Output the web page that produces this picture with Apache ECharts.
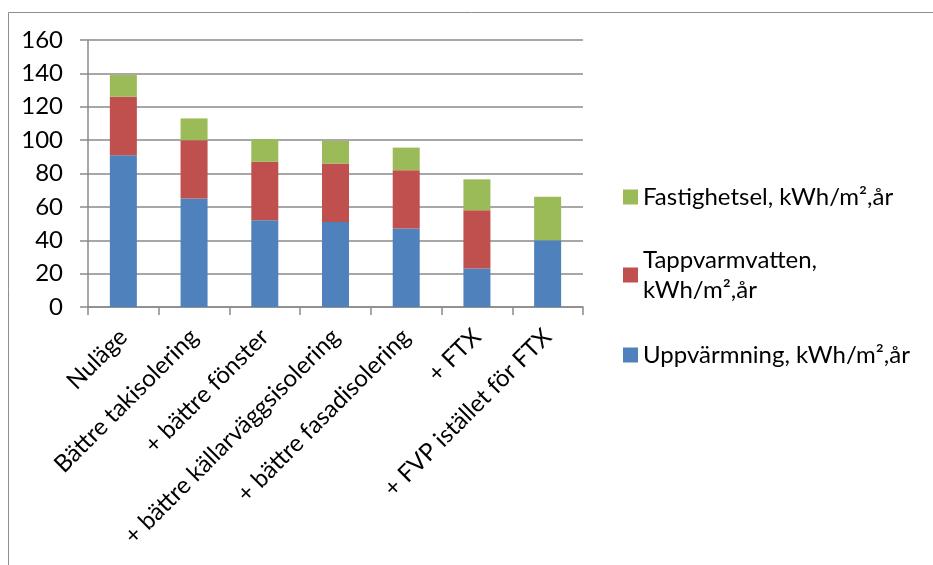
<!DOCTYPE html>
<html>
<head>
<meta charset="utf-8">
<script src="https://cdn.jsdelivr.net/npm/echarts@6/dist/echarts.min.js"></script>
<style>
  html, body { margin: 0; padding: 0; background: #ffffff; }
  #chart { width: 933px; height: 565px; }
</style>
</head>
<body>
<div id="chart"></div>
<script>
// Åtgärdssteg (kategorier)
const categories = [
  'Nuläge',
  'Bättre takisolering',
  '+ bättre fönster',
  '+ bättre källarväggsisolering',
  '+ bättre fasadisolering',
  '+ FTX',
  '+ FVP istället för FTX'
];

// Energianvändning per steg, kWh/m²,år
const uppvarmning = [91, 65, 52, 51, 47, 23, 40];
const tappvarmvatten = [35, 35, 35, 35, 35, 35, 0];
const fastighetsel = [13, 13, 13.5, 13.5, 13.5, 18.5, 26];

const seriesNames = [
  'Uppvärmning, kWh/m²,år',
  'Tappvarmvatten, kWh/m²,år',
  'Fastighetsel, kWh/m²,år'
];

const yTicks = { min: 0, max: 160, interval: 20 };

const FONT = 'Lato';
const FS = 24;
const colors = ['#4F81BD', '#C0504D', '#9BBB59'];
const gridColor = '#8a8a8a';

const chart = echarts.init(document.getElementById('chart'), null, { renderer: 'canvas' });

function legendFor(name, top, extra) {
  return Object.assign({
    data: [name],
    orient: 'vertical',
    left: 623,
    top: top,
    padding: 0,
    itemWidth: 15,
    itemHeight: 15,
    itemGap: 0,
    icon: 'rect',
    selectedMode: false,
    textStyle: { fontFamily: FONT, fontSize: FS, color: '#000', lineHeight: 30 }
  }, extra || {});
}

const option = {
  backgroundColor: '#ffffff',
  animation: false,
  color: colors,
  textStyle: { fontFamily: FONT },
  grid: { left: 88, right: 350, top: 40, bottom: 258, containLabel: false },
  graphic: [{
    type: 'rect',
    shape: { x: 8.5, y: 12.5, width: 1000, height: 1000 },
    style: { fill: 'none', stroke: '#8e8e8e', lineWidth: 1 },
    silent: true,
    z: -1
  }],
  legend: [
    legendFor(seriesNames[2], 182),
    legendFor(seriesNames[1], 230, {
      formatter: () => 'Tappvarmvatten,\nkWh/m²,år',
      textStyle: { fontFamily: FONT, fontSize: FS, color: '#000', lineHeight: 30, padding: [30, 0, 0, 0] }
    }),
    legendFor(seriesNames[0], 340)
  ],
  xAxis: {
    type: 'category',
    data: categories,
    boundaryGap: true,
    axisLine: { show: true, lineStyle: { color: gridColor, width: 1.5 } },
    axisTick: { show: true, length: 8, lineStyle: { color: gridColor, width: 1.5 } },
    axisLabel: {
      interval: 0,
      rotate: 45,
      margin: 26,
      fontFamily: FONT,
      fontSize: FS,
      color: '#000'
    },
    splitLine: { show: false }
  },
  yAxis: {
    type: 'value',
    min: yTicks.min,
    max: yTicks.max,
    interval: yTicks.interval,
    axisLine: { show: true, lineStyle: { color: gridColor, width: 1.5 } },
    axisTick: { show: true, length: 8, lineStyle: { color: gridColor, width: 1.5 } },
    axisLabel: { margin: 25, fontFamily: FONT, fontSize: FS, color: '#000' },
    splitLine: { show: true, lineStyle: { color: gridColor, width: 1.5 } }
  },
  series: [
    { name: seriesNames[0], type: 'bar', stack: 'total', data: uppvarmning, barWidth: 27 },
    { name: seriesNames[1], type: 'bar', stack: 'total', data: tappvarmvatten, barWidth: 27 },
    { name: seriesNames[2], type: 'bar', stack: 'total', data: fastighetsel, barWidth: 27 }
  ]
};

chart.setOption(option);
</script>
</body>
</html>
